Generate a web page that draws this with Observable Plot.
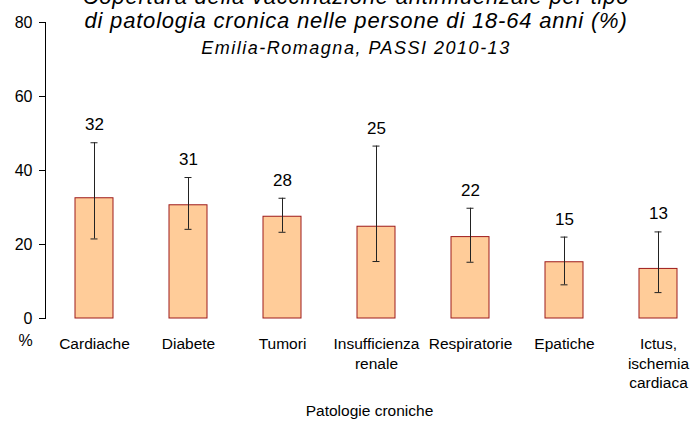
<!DOCTYPE html>
<html>
<head>
<meta charset="utf-8">
<script src="https://cdn.jsdelivr.net/npm/d3@7"></script>
<script src="https://cdn.jsdelivr.net/npm/@observablehq/plot@0.6"></script>
<style>
  html, body { margin: 0; padding: 0; background: #fff; }
  #wrap { position: relative; width: 693px; height: 421px; overflow: hidden; font-family: "Liberation Sans", Arial, sans-serif; }
  .t { position: absolute; left: 0; width: 712px; white-space: nowrap; font-style: italic; color: #000; text-align: center; }
  #t1 { top: -15px; font-size: 22px; line-height: 24px; letter-spacing: 0.8px; }
  #t2 { top: 9px; font-size: 22px; line-height: 24px; letter-spacing: 0.8px; }
  #t3 { top: 38px; font-size: 18px; line-height: 20px; letter-spacing: 1.5px; }
  #chart { position: absolute; left: 0; top: 0; }
</style>
</head>
<body>
<div id="wrap">
  <div id="chart"></div>
  <div class="t" id="t1">Copertura della vaccinazione antinfluenzale per tipo</div>
  <div class="t" id="t2">di patologia cronica nelle persone di 18-64 anni (%)</div>
  <div class="t" id="t3">Emilia-Romagna, PASSI 2010-13</div>
</div>
<script>
const categories = ["Cardiache", "Diabete", "Tumori", "Insufficienza renale", "Respiratorie", "Epatiche", "Ictus, ischemia cardiaca"];
const tickLabels = ["Cardiache", "Diabete", "Tumori", "Insufficienza\nrenale", "Respiratorie", "Epatiche", "Ictus,\nischemia\ncardiaca"];
const values = [32.5, 30.6, 27.5, 24.8, 22.0, 15.2, 13.4];
const lower = [21.5, 24.1, 23.3, 15.4, 15.2, 9.1, 7.0];
const upper = [47.5, 38.1, 32.5, 46.6, 29.8, 22.0, 23.4];
const valueLabels = ["32", "31", "28", "25", "22", "15", "13"];
const yTicks = [0, 20, 40, 60, 80];

const data = categories.map((c, i) => ({cat: c, v: values[i], lo: lower[i], hi: upper[i], lab: valueLabels[i]}));
const tickMap = new Map(categories.map((c, i) => [c, tickLabels[i]]));

const chart = Plot.plot({
  width: 693,
  height: 421,
  marginTop: 22,
  marginBottom: 103,
  marginLeft: 45,
  marginRight: 0,
  style: {fontFamily: "Liberation Sans, Arial, sans-serif", fontSize: "15px", color: "#000", background: "transparent"},
  x: {domain: categories, range: [16, 736], padding: 0.6},
  y: {domain: [0, 80]},
  marks: [
    Plot.frame({anchor: "left", stroke: "#000"}),
    Plot.axisY({ticks: yTicks, tickSize: 6, tickPadding: 7, label: null, fontSize: 16, stroke: "#000"}),
    Plot.axisX({tickSize: 0, tickPadding: 17, tickFormat: d => tickMap.get(d), fontSize: 15.5, lineHeight: 1.25,
      label: "Patologie croniche", labelAnchor: "center", labelOffset: 97}),
    Plot.barY(data, {x: "cat", y: "v", fill: "#FFCC99", stroke: "#9E1A1A", strokeWidth: 1}),
    Plot.ruleX(data, {x: "cat", y1: "lo", y2: "hi", stroke: "#222", strokeWidth: 1}),
    Plot.tickY(data, {x: "cat", y: "lo", stroke: "#222", insetLeft: 15.5, insetRight: 15.5}),
    Plot.tickY(data, {x: "cat", y: "hi", stroke: "#222", insetLeft: 15.5, insetRight: 15.5}),
    Plot.text(data, {x: "cat", y: "hi", text: "lab", dy: -18, fontSize: 17, fill: "#000"}),
    Plot.text(["%"], {frameAnchor: "bottom-left", dx: -27, dy: 27, fontSize: 16, fill: "#000"})
  ]
});
document.getElementById("chart").appendChild(chart);
</script>
</body>
</html>
